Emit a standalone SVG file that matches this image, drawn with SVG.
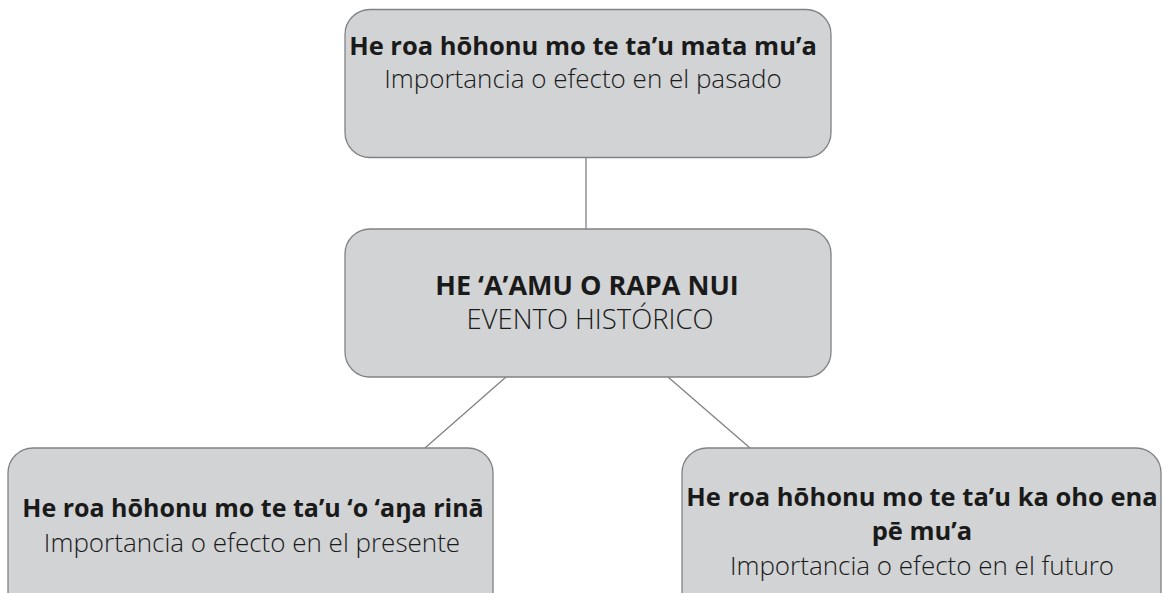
<svg xmlns="http://www.w3.org/2000/svg" width="1163" height="593" viewBox="0 0 1163 593">
<style>
.box{fill:#d1d3d4;stroke:#808285;stroke-width:1.3}
.con{stroke:#808285;stroke-width:1.3;fill:none}
text{font-family:"Open Sans","Noto Sans","Liberation Sans",sans-serif;fill:#1a1a1a;text-anchor:middle}
.b{font-weight:700;font-size:25.5px}
.r{font-weight:300;font-size:26px}
.bm{font-weight:700;font-size:27px}
.rm{font-weight:300;font-size:27.5px}
</style>
<rect width="1163" height="593" fill="#ffffff"/>
<g id="connectors">
<line class="con" x1="586" y1="157" x2="586" y2="229"/>
<line class="con" x1="506" y1="377" x2="425" y2="448"/>
<line class="con" x1="668" y1="377" x2="750" y2="448"/>
</g>
<g id="past">
<rect class="box" x="345" y="9.5" width="486" height="148" rx="25"/>
<text class="b" x="583" y="55">He roa hōhonu mo te ta’u mata mu’a</text>
<text class="r" x="583" y="88">Importancia o efecto en el pasado</text>
</g>
<g id="event">
<rect class="box" x="345" y="229" width="486" height="148" rx="25"/>
<text class="bm" x="587" y="295">HE ‘A’AMU O RAPA NUI</text>
<text class="rm" x="590" y="329">EVENTO HISTÓRICO</text>
</g>
<g id="present">
<rect class="box" x="8" y="448" width="485" height="170" rx="25"/>
<text class="b" x="253" y="517" style="font-size:25px">He roa hōhonu mo te ta’u ‘o ‘aŋa rinā</text>
<text class="r" x="252" y="552">Importancia o efecto en el presente</text>
</g>
<g id="future">
<rect class="box" x="682" y="448" width="479" height="170" rx="25"/>
<text class="b" x="922" y="506">He roa hōhonu mo te ta’u ka oho ena</text>
<text class="b" x="922" y="540">pē mu’a</text>
<text class="r" x="922" y="575">Importancia o efecto en el futuro</text>
</g>
</svg>
